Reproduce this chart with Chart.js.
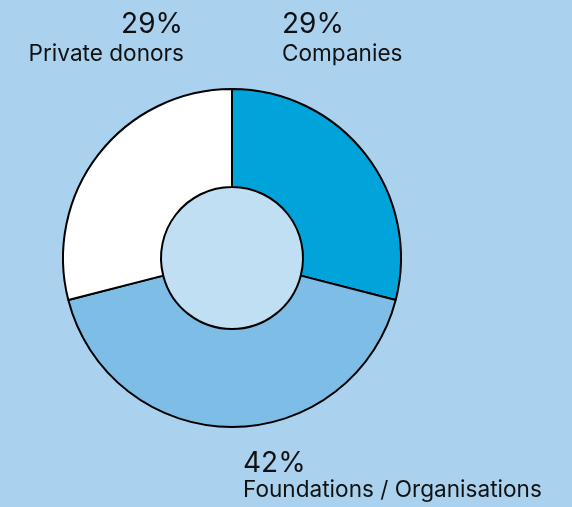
<!DOCTYPE html>
<html>
<head>
<meta charset="utf-8">
<script src="https://cdn.jsdelivr.net/npm/chart.js@4/dist/chart.umd.min.js"></script>
<style>
  html, body { margin: 0; padding: 0; background: #aad2ef; }
  #wrap { width: 572px; height: 507px; position: relative; }
</style>
</head>
<body>
<div id="wrap"><canvas id="c" width="572" height="507"></canvas></div>
<script>
const categories = ["Companies", "Foundations / Organisations", "Private donors"];
const shares = [29, 42, 29];
const percentLabels = ["29%", "42%", "29%"];
const sliceColors = ["#00a3da", "#7dbde6", "#ffffff"];

const labelPlugin = {
  id: 'labels',
  beforeDatasetsDraw(chart) {
    const arc = chart.getDatasetMeta(0).data[0];
    const ctx = chart.ctx;
    ctx.save();
    ctx.beginPath();
    ctx.arc(arc.x, arc.y, arc.innerRadius, 0, Math.PI * 2);
    ctx.fillStyle = '#c1dff3';
    ctx.fill();
    ctx.restore();
  },
  afterDraw(chart) {
    const ctx = chart.ctx;
    ctx.save();
    ctx.fillStyle = '#111111';
    ctx.textBaseline = 'alphabetic';
    const big = '28px Inter';
    const small = '22.6px Inter';
    // Private donors (right aligned)
    ctx.textAlign = 'right';
    ctx.font = big; ctx.fillText(percentLabels[2], 183, 33);
    ctx.font = small; ctx.fillText(categories[2], 184, 61);
    // Companies
    ctx.textAlign = 'left';
    ctx.font = big; ctx.fillText(percentLabels[0], 282, 33);
    ctx.font = small; ctx.fillText(categories[0], 282, 61);
    // Foundations
    ctx.font = big; ctx.fillText(percentLabels[1], 243, 472);
    ctx.font = small; ctx.fillText(categories[1], 243, 497);
    ctx.restore();
  }
};

new Chart(document.getElementById('c'), {
  type: 'doughnut',
  data: {
    labels: categories,
    datasets: [{
      data: shares,
      backgroundColor: sliceColors,
      borderColor: '#000000',
      borderWidth: 2
    }]
  },
  options: {
    responsive: false,
    animation: false,
    cutout: '42%',
    layout: { padding: { left: 62, right: 170, top: 88, bottom: 79 } },
    plugins: { legend: { display: false }, tooltip: { enabled: false } }
  },
  plugins: [labelPlugin]
});
</script>
</body>
</html>
